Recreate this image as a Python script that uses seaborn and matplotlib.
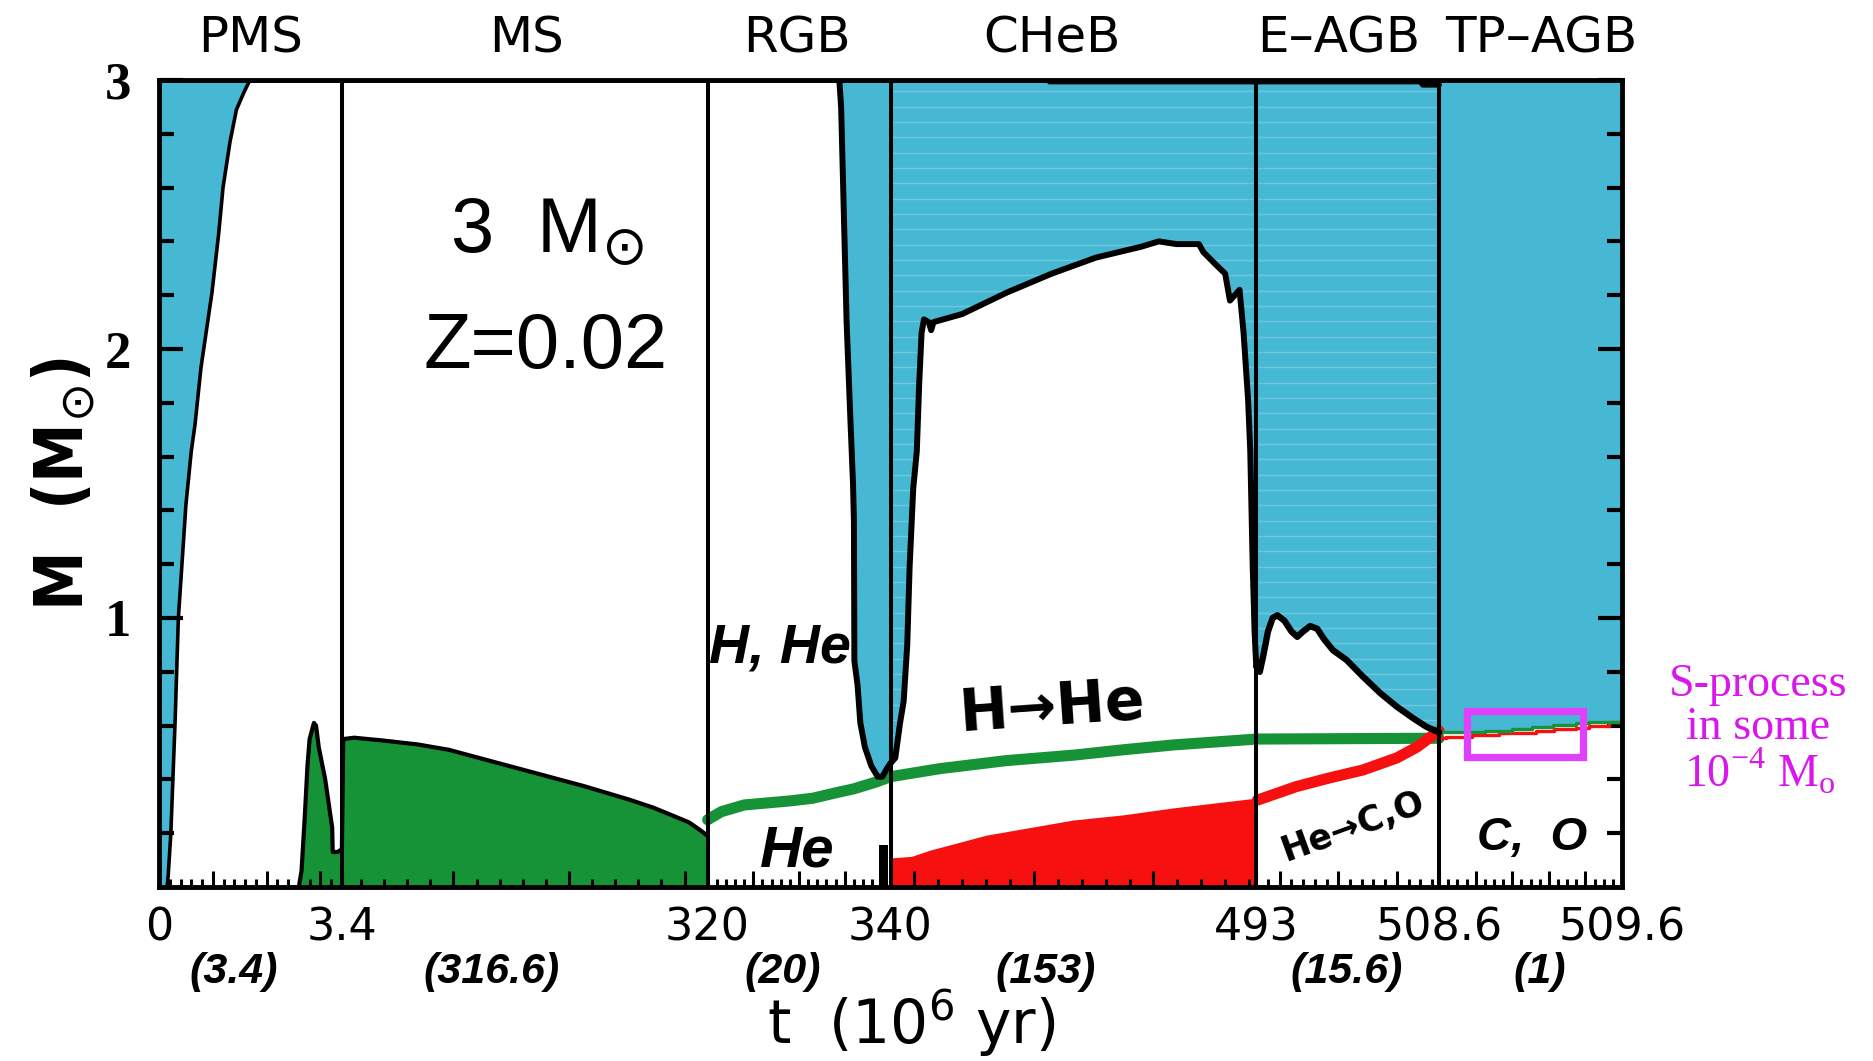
import numpy as np
import matplotlib
matplotlib.use("Agg")
import matplotlib.pyplot as plt
import matplotlib.transforms as mtransforms
from matplotlib.patches import Rectangle
from matplotlib.ticker import FixedLocator, FixedFormatter
import seaborn as sns

# ------------------------------------------------------------------ data
phase_names = ["PMS", "MS", "RGB", "CHeB", "E\u2013AGB", "TP\u2013AGB"]
phase_bounds = [0.0, 3.4, 320.0, 340.0, 493.0, 508.6, 509.6]          # 10^6 yr
bound_labels = ["0", "3.4", "320", "340", "493", "508.6", "509.6"]
phase_durations = ["(3.4)", "(316.6)", "(20)", "(153)", "(15.6)", "(1)"]
phase_width_units = [1, 2, 1, 2, 1, 1]     # relative width of each phase on the axis

# convective envelope base (envelope above, blue)
pms_env_t = [0.0, 0.15, 0.17, 0.22, 0.30, 0.36, 0.50, 0.60, 0.67, 0.78, 0.875, 0.985, 1.11, 1.19, 1.32, 1.44, 1.57, 1.69]
pms_env_m = [0.0, 0.0, 0.04, 0.20, 0.62, 1.00, 1.42, 1.62, 1.72, 1.93, 2.06, 2.21, 2.43, 2.60, 2.77, 2.89, 2.95, 3.0]
rgb_env_t = [334.4, 334.6, 334.9, 335.2, 335.6, 335.9, 336.0, 336.05, 336.4, 336.7, 337.2, 337.9, 338.6, 339.1, 339.6, 340.0]
rgb_env_m = [3.0, 2.9, 2.5, 2.1, 1.75, 1.5, 1.36, 0.84, 0.75, 0.61, 0.52, 0.45, 0.41, 0.41, 0.44, 0.46]
cheb_env_t = [340.0, 342.0, 344.0, 345.5, 347.0, 348.0, 349.5, 351.0, 352.0, 353.0, 354.0, 356.0, 357.0, 358.0,
              370.0, 388.7, 407.4, 426.0, 444.8, 452.2, 459.7, 469.0, 470.9, 476.5, 480.0, 482.0, 484.0, 486.0,
              487.7, 489.6, 490.5, 491.5, 492.3, 493.0]
cheb_env_m = [0.46, 0.48, 0.61, 0.69, 0.90, 1.19, 1.48, 1.62, 1.87, 2.06, 2.11, 2.10, 2.07, 2.10,
              2.13, 2.21, 2.28, 2.34, 2.38, 2.40, 2.39, 2.39, 2.36, 2.31, 2.28, 2.18, 2.20, 2.22,
              2.06, 1.81, 1.62, 1.20, 0.95, 0.82]
eagb_env_t = [493.0, 493.3, 493.6, 494.0, 494.4, 494.8, 495.4, 496.0, 496.5, 497.0, 497.6, 498.2, 498.8,
              499.55, 500.7, 502.1, 503.6, 505.0, 506.4, 507.5, 508.1, 508.6]
eagb_env_m = [0.82, 0.80, 0.86, 0.95, 1.00, 1.01, 0.99, 0.95, 0.93, 0.95, 0.97, 0.96, 0.92,
              0.88, 0.844, 0.782, 0.72, 0.67, 0.627, 0.596, 0.584, 0.575]

# convective H-burning cores (green)
pms_core_t = [2.60, 2.65, 2.71, 2.76, 2.80, 2.88, 2.92, 2.97, 3.09, 3.22, 3.23, 3.32, 3.40]
pms_core_m = [0.0, 0.06, 0.26, 0.45, 0.55, 0.61, 0.60, 0.52, 0.40, 0.22, 0.13, 0.13, 0.14]
ms_core_t = [3.4, 4.6, 14.0, 38.0, 69.0, 96.0, 135.0, 174.0, 213.0, 252.0, 273.0, 290.0, 304.0, 314.0, 320.0]
ms_core_m = [0.14, 0.55, 0.555, 0.545, 0.53, 0.51, 0.465, 0.42, 0.375, 0.325, 0.295, 0.265, 0.24, 0.21, 0.19]

# H-free core mass (H shell, green line)
h_shell_t = [320.0, 321.5, 324.0, 329.0, 331.5, 334.0, 336.0, 338.4, 340.0, 360.7, 388.6, 416.4, 437.3,
             458.2, 491.7, 493.0, 508.6]
h_shell_m = [0.25, 0.28, 0.305, 0.32, 0.33, 0.35, 0.365, 0.39, 0.41, 0.44, 0.47, 0.49, 0.51,
             0.528, 0.549, 0.55, 0.553]

# He flash region at the RGB tip (black)
heflash_t = [338.7, 339.7]
heflash_m = [0.155, 0.155]

# convective He-burning core (red) and He shell
cheb_core_t = [340.0, 348.8, 356.5, 380.2, 416.4, 437.2, 458.2, 489.6, 493.0]
cheb_core_m = [0.108, 0.114, 0.137, 0.193, 0.249, 0.268, 0.294, 0.327, 0.33]
he_shell_t = [493.1, 496.4, 499.2, 502.1, 505.0, 506.7, 508.1, 508.6]
he_shell_m = [0.323, 0.373, 0.405, 0.435, 0.48, 0.52, 0.565, 0.58]

# TP-AGB H-free and He-free core masses
tp_h_t = [508.6, 508.70, 508.85, 509.0, 509.11, 509.22, 509.35, 509.42, 509.6]
tp_h_m = [0.575, 0.577, 0.58, 0.588, 0.595, 0.602, 0.61, 0.615, 0.62]
tp_he_t = [508.6, 508.636, 508.782, 508.928, 509.019, 509.128, 509.229, 509.347, 509.42, 509.53, 509.6]
tp_he_m = [0.553, 0.556, 0.566, 0.571, 0.574, 0.58, 0.586, 0.592, 0.60, 0.612, 0.618]

# stellar surface mass
surf_t = [0.0, 406.0, 406.5, 507.0, 507.2, 508.6]
surf_m = [3.0, 3.0, 2.994, 2.994, 2.982, 2.982]

# s-process region box
sproc_t = [508.753, 509.385]
sproc_m = [0.483, 0.654]

# ------------------------------------------------------------------ style
BLUE = "#46B8D4"
STRIPE = "#7BCDE2"
GREEN = "#179337"
RED = "#F71010"
BOX_MAG = "#E040FB"
TXT_MAG = "#D916EC"

sns.set_theme(style="ticks")
plt.rcParams["font.family"] = ["DejaVu Sans"]
plt.rcParams["mathtext.fontset"] = "dejavusans"
for k in ["text.color", "axes.labelcolor", "xtick.color", "ytick.color",
          "xtick.labelcolor", "ytick.labelcolor", "axes.edgecolor"]:
    plt.rcParams[k] = "black"

# piecewise-linear time axis: every phase gets its own width
U = np.concatenate([[0.0], np.cumsum(phase_width_units)])
T_ext = np.concatenate([[-100.0], phase_bounds, [phase_bounds[-1] + 100.0]])
U_ext = np.concatenate([[-100.0 / 3.4], U, [U[-1] + 100.0]])


def fwd(t):
    return np.interp(np.asarray(t, dtype=float), T_ext, U_ext)


def inv(u):
    return np.interp(np.asarray(u, dtype=float), U_ext, T_ext)


fig = plt.figure(figsize=(18.74, 10.61), dpi=100)
ax = fig.add_axes([159 / 1874, 174 / 1061, 1463 / 1874, 807 / 1061])
ax.set_xscale("function", functions=(fwd, inv))
ax.set_facecolor("white")
ax.set_axisbelow(False)


def outline(t, m, lw, z=5, color="black"):
    sns.lineplot(x=np.asarray(t), y=np.asarray(m), ax=ax, color=color, linewidth=lw,
                 sort=False, estimator=None, legend=False, zorder=z)


# envelopes (blue)
ax.fill_between(pms_env_t, pms_env_m, 3, color=BLUE, lw=0, zorder=1)
ax.fill_between(rgb_env_t, rgb_env_m, 3, color=BLUE, lw=0, zorder=1)
p_cheb = ax.fill_between(cheb_env_t, cheb_env_m, 3, color=BLUE, lw=0, zorder=1)
p_eagb = ax.fill_between(eagb_env_t, eagb_env_m, 3, color=BLUE, lw=0, zorder=1)
ax.fill_between(tp_h_t, tp_h_m, 3, step="post", color=BLUE, lw=0, zorder=1)

# faint scan stripes inside the CHeB / E-AGB envelope
stripe_y = np.arange(0.45, 2.98, 0.057)
for poly, t0, t1 in [(p_cheb, 340.0, 493.0), (p_eagb, 493.0, 508.6)]:
    hl = ax.hlines(stripe_y, t0, t1, colors=STRIPE, lw=1.0, alpha=0.8, zorder=1.1)
    hl.set_clip_path(poly.get_paths()[0], ax.transData)

outline(pms_env_t[1:], pms_env_m[1:], 2.6)
outline(rgb_env_t, rgb_env_m, 4.3)
outline(cheb_env_t, cheb_env_m, 4.3)
outline(eagb_env_t, eagb_env_m, 4.6)

# convective cores
ax.fill_between(pms_core_t, 0, pms_core_m, color=GREEN, lw=0, zorder=1)
ax.fill_between(ms_core_t, 0, ms_core_m, color=GREEN, lw=0, zorder=1)
outline(pms_core_t, pms_core_m, 3.0)
outline(ms_core_t, ms_core_m, 3.0)
ax.fill_between(cheb_core_t, 0, cheb_core_m, color=RED, lw=0, zorder=1)
ax.fill_between(heflash_t, 0, heflash_m, color="black", lw=0, zorder=2)

# burning shells
outline(h_shell_t, h_shell_m, 8, z=3, color=GREEN)
outline(he_shell_t, he_shell_m, 8, z=3, color=RED)
sns.lineplot(x=np.asarray(tp_he_t), y=np.asarray(tp_he_m), ax=ax, color=RED, linewidth=2.4,
             drawstyle="steps-post", sort=False, estimator=None, legend=False, zorder=3)
sns.lineplot(x=np.asarray(tp_h_t), y=np.asarray(tp_h_m), ax=ax, color=GREEN, linewidth=2.4,
             drawstyle="steps-post", sort=False, estimator=None, legend=False, zorder=3)
outline(surf_t, surf_m, 4, z=6)

# phase boundaries
for b in phase_bounds[1:-1]:
    ax.axvline(b, color="black", lw=2.9, zorder=6)

# s-process box
ax.add_patch(Rectangle((sproc_t[0], sproc_m[0]), sproc_t[1] - sproc_t[0], sproc_m[1] - sproc_m[0],
                       fill=False, edgecolor=BOX_MAG, lw=5.2, zorder=7))

ax.set_xlim(phase_bounds[0], phase_bounds[-1])
ax.set_ylim(0, 3)

# ------------------------------------------------------------------ ticks
medium_ticks = [1.0, 2.0, 3.0, 100.0, 200.0, 300.0, 325.0, 330.0, 335.0, 350.0, 400.0, 450.0,
                495.0, 500.0, 505.0, 508.8, 509.0, 509.2, 509.4]
major_pos = list(phase_bounds) + medium_ticks
major_lbl = list(bound_labels) + [""] * len(medium_ticks)
minor_pos = np.concatenate([
    np.arange(0.2, 3.3, 0.2), np.arange(20, 301, 20), np.arange(321, 340, 1),
    np.arange(350, 491, 10), np.arange(494, 509, 1), np.arange(508.65, 509.56, 0.05)])
ax.xaxis.set_major_locator(FixedLocator(major_pos))
ax.xaxis.set_major_formatter(FixedFormatter(major_lbl))
ax.xaxis.set_minor_locator(FixedLocator(minor_pos))
ax.tick_params(axis="x", which="major", direction="in", length=11.5, width=2.2, pad=14,
               labelsize=32, top=False, bottom=True)
ax.tick_params(axis="x", which="minor", direction="in", length=5.8, width=2.2, top=False, bottom=True)

ax.yaxis.set_major_locator(FixedLocator([1, 2, 3]))
ax.yaxis.set_major_formatter(FixedFormatter(["1", "2", "3"]))
ax.yaxis.set_minor_locator(FixedLocator(np.arange(0.2, 2.9, 0.2)))
ax.tick_params(axis="y", which="major", direction="in", length=17, width=3, pad=20,
               left=True, right=True)
ax.tick_params(axis="y", which="minor", direction="in", length=11, width=3, left=True, right=True)
for lab in ax.get_yticklabels():
    lab.set_fontfamily(["Liberation Serif", "DejaVu Serif"])
    lab.set_fontweight("bold")
    lab.set_fontsize(38)

for s in ax.spines.values():
    s.set_linewidth(3.5)
    s.set_color("black")
    s.set_zorder(10)

# ------------------------------------------------------------------ labels
ax.set_xlabel(r"t  (10$^{\mathregular{6}}$ yr)", fontsize=43)
ax.xaxis.set_label_coords(0.514, -0.124)
ax.set_ylabel(r"M  (M$_{\odot}$)", fontsize=48, fontweight="bold", fontstretch="condensed")
ax.yaxis.set_label_coords(-0.042, 0.50)

blend = mtransforms.blended_transform_factory(ax.transData, ax.transAxes)
top_label_t = [1.71, 162.8, 329.8, 407.5, 500.0, 509.16]
for name, tx in zip(phase_names, top_label_t):
    ax.text(tx, 1.0335, name, transform=blend, ha="center", va="baseline", fontsize=36)

sans = ["Liberation Sans", "DejaVu Sans"]
dur_label_t = [1.38, 133.4, 328.2, 405.0, 500.7, 509.15]
for lab, tx in zip(phase_durations, dur_label_t):
    ax.text(tx, -0.119, lab, transform=blend, ha="center", va="baseline", fontsize=31,
            fontstyle="italic", fontweight="bold", family=sans)

ax.text(181.3, 2.357, r"3  M$_{\odot}$", ha="center", va="baseline", fontsize=56, family=sans)
ax.text(179.5, 1.929, "Z=0.02", ha="center", va="baseline", fontsize=56, family=sans)
ax.text(327.9, 0.833, "H, He", ha="center", va="baseline", fontsize=40, family=sans,
        fontweight="bold", fontstyle="italic")
ax.text(329.8, 0.078, "He", ha="center", va="baseline", fontsize=42, family=sans,
        fontweight="bold", fontstyle="italic")
ax.text(407.5, 0.665, "H\u2192He", ha="center", va="center", fontsize=42, family=["DejaVu Sans"],
        fontweight="bold", rotation=4, rotation_mode="anchor")
ax.text(501.3, 0.227, "He\u2192C,O", ha="center", va="center", fontsize=25, family=["DejaVu Sans"],
        fontweight="bold", rotation=20, rotation_mode="anchor")
ax.text(509.11, 0.138, "C,  O", ha="center", va="baseline", fontsize=34, family=sans,
        fontweight="bold", fontstyle="italic")

serif = ["Liberation Serif", "DejaVu Serif"]
fig.text(0.938, 0.344, "S-process", ha="center", va="baseline", fontsize=33, color=TXT_MAG, family=serif)
fig.text(0.938, 0.3035, "in some", ha="center", va="baseline", fontsize=33, color=TXT_MAG, family=serif)
fig.text(0.939, 0.259, r"10$^{\mathregular{-4}}$ M$_{\mathregular{o}}$", ha="center", va="baseline",
         fontsize=33, color=TXT_MAG, family=serif)

fig.savefig("out.png", dpi=100, facecolor="white")
